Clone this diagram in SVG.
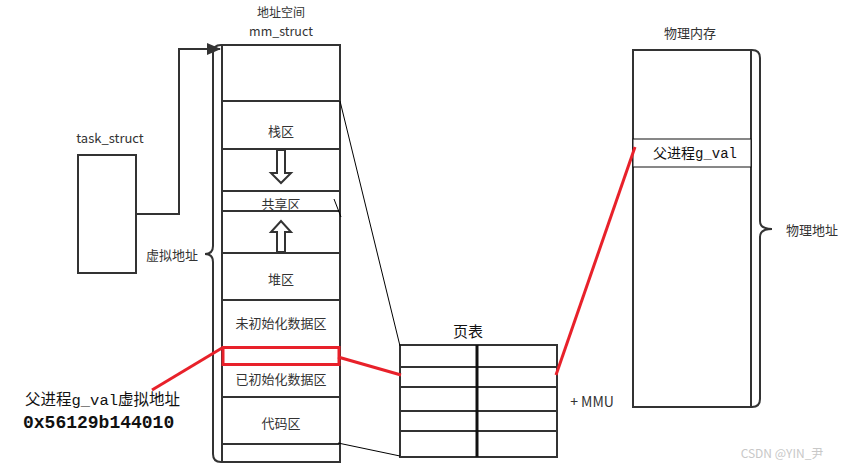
<svg xmlns="http://www.w3.org/2000/svg" width="843" height="469" viewBox="0 0 843 469">
<style>
.box{fill:#fff;stroke:#333;stroke-width:2}
.ln{fill:none;stroke:#333;stroke-width:2}
.thin{fill:none;stroke:#000;stroke-width:1}
.red{fill:none;stroke:#e8212a;stroke-width:3}
.t{font-family:"Noto Sans CJK SC","Liberation Sans",sans-serif;font-size:13px;fill:#333;text-anchor:middle;dominant-baseline:central}
.m{font-family:"Liberation Mono","Noto Sans CJK SC",monospace;fill:#111;dominant-baseline:central}
</style>
<defs>
<marker id="ah" markerWidth="14" markerHeight="12" refX="13" refY="6" orient="auto" markerUnits="userSpaceOnUse" viewBox="0 0 14 12">
<path d="M0,0 L14,6 L0,12 z" fill="#333"/>
</marker>
</defs>

<g id="task_struct">
<rect class="box" x="78" y="155" width="58" height="118"/>
<text class="t" x="110" y="137">task_struct</text>
</g>

<g id="mm_struct">
<text class="t" x="281" y="11" style="font-size:12px">地址空间</text>
<text class="t" x="281" y="30" style="font-size:12.5px">mm_struct</text>
<rect class="box" x="222" y="45" width="118" height="417"/>
<path class="ln" d="M222,101H340M222,149H340M222,191H340M222,211H340M222,253H340M222,300H340M222,397H340M222,444H340"/>
<text class="t" x="281" y="130">栈区</text>
<text class="t" x="281" y="203">共享区</text>
<text class="t" x="281" y="278">堆区</text>
<text class="t" x="281" y="322">未初始化数据区</text>
<text class="t" x="281" y="378">已初始化数据区</text>
<text class="t" x="281" y="422">代码区</text>
<polygon class="box" points="277,150 285,150 285,173 291,173 281,183 271,173 277,173"/>
<polygon class="box" points="277,252 285,252 285,232 291,232 281,221 271,232 277,232"/>
<rect x="223" y="347.5" width="116" height="17" fill="none" stroke="#e8212a" stroke-width="3"/>
</g>

<g id="vaddr_brace">
<path class="ln" d="M221,45 Q213,45 213,53 V246 Q213,254 205,254 Q213,254 213,262 V454 Q213,462 221,462"/>
<text class="t" x="172" y="254">虚拟地址</text>
</g>

<g id="page_table">
<text x="468" y="330" style="font-family:'Noto Sans CJK SC',sans-serif;font-size:15px;fill:#111;text-anchor:middle;dominant-baseline:central">页表</text>
<rect class="box" x="400" y="345" width="157" height="112"/>
<path class="ln" d="M400,367H557M400,387H557M400,411H557M400,431H557"/>
<line x1="477" y1="345" x2="477" y2="457" stroke="#111" stroke-width="3"/>
<text class="t" x="592" y="401" style="font-size:14px">+ MMU</text>
</g>

<g id="phys_mem">
<text class="t" x="690" y="32">物理内存</text>
<rect class="box" x="633" y="50" width="118" height="357"/>
<rect x="633" y="139" width="118" height="28" fill="#fff" stroke="#111" stroke-width="1"/>
<text class="m" x="653" y="154" style="font-size:14px">父进程g_val</text>
</g>

<g id="paddr_brace">
<path class="ln" d="M752,50 Q760,50 760,58 V221 Q760,229 772,229 Q760,229 760,237 V399 Q760,407 752,407"/>
<text class="t" x="812" y="229">物理地址</text>
</g>

<g id="annotation">
<text class="m" x="25" y="401" style="font-size:15.5px">父进程g_val虚拟地址</text>
<text class="m" x="23" y="423" style="font-size:18px;font-weight:bold">0x56129b144010</text>
</g>

<g id="connectors">
<path class="ln" d="M136,214 H179 V49 H220" marker-end="url(#ah)"/>
<line class="thin" x1="340" y1="101" x2="400" y2="346"/>
<line class="thin" x1="338" y1="443" x2="400" y2="456"/>
<line class="thin" x1="334" y1="199" x2="341" y2="217"/>
<line class="red" x1="222" y1="348" x2="152" y2="390"/>
<line class="red" x1="338" y1="357" x2="401" y2="375"/>
<line class="red" x1="556" y1="375" x2="635" y2="147"/>
</g>

<text x="782" y="452" style="font-family:'Noto Sans CJK SC','Liberation Sans',sans-serif;font-size:12px;fill:#c8c8c8;text-anchor:middle;dominant-baseline:central">CSDN @YIN_尹</text>
</svg>
